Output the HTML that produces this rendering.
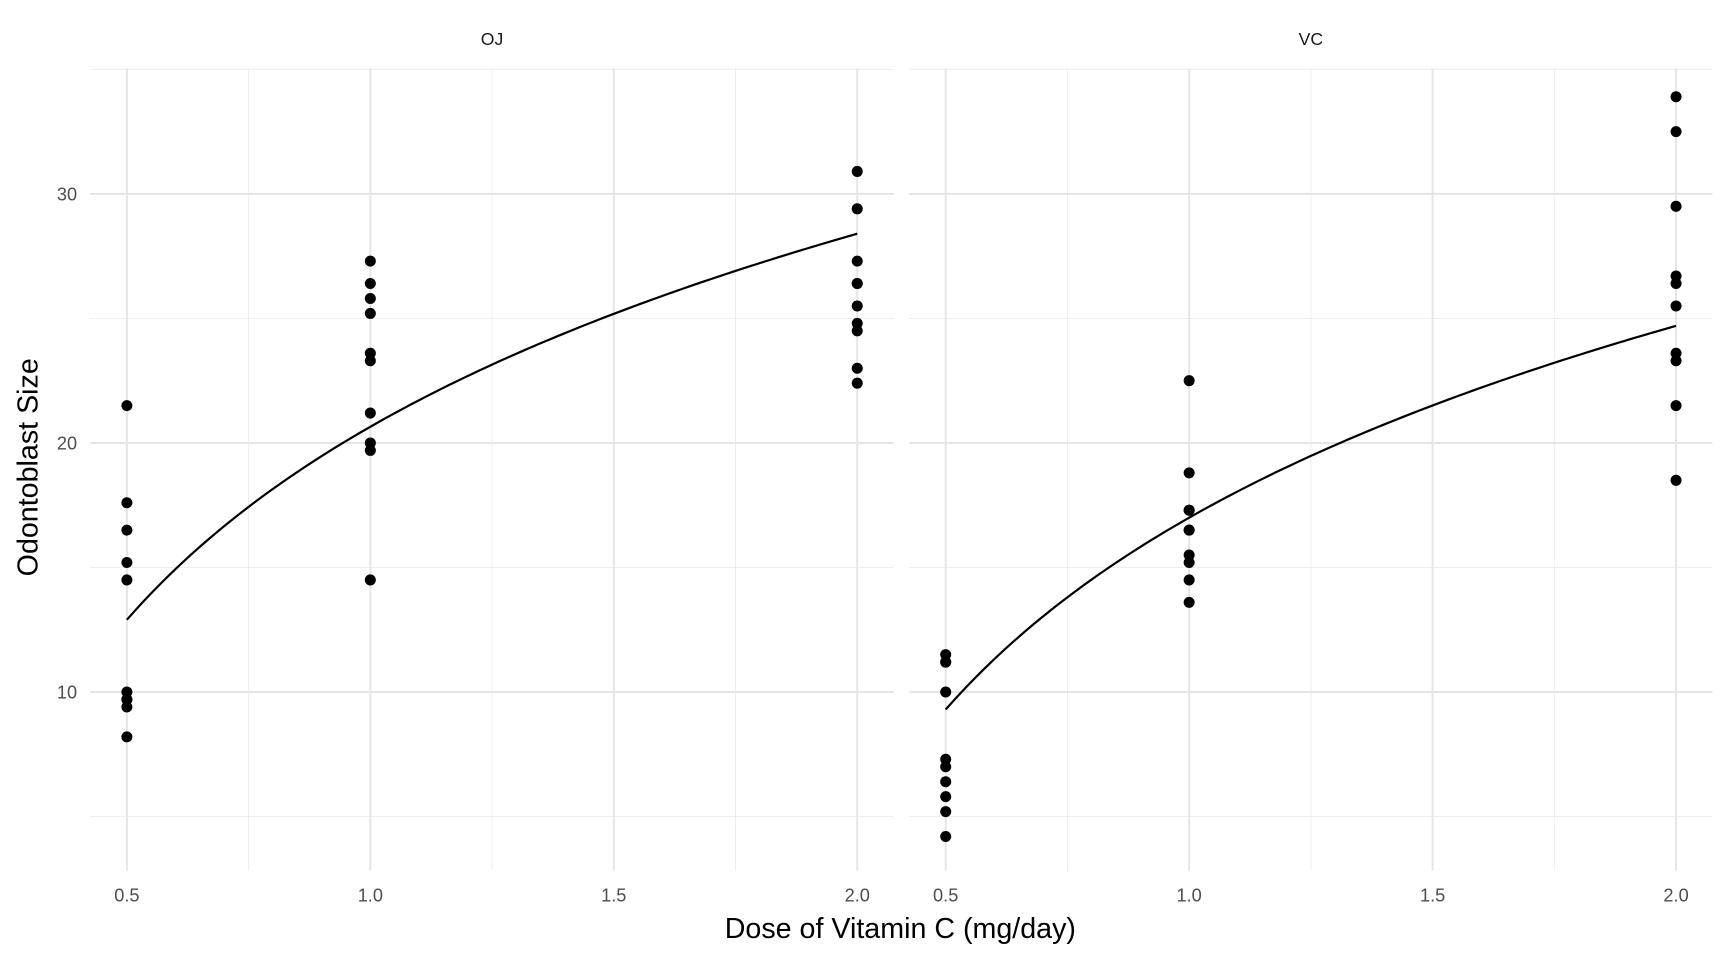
<!DOCTYPE html>
<html><head><meta charset="utf-8"><style>
html,body{margin:0;padding:0;background:#fff;}
svg{display:block;font-family:"Liberation Sans",sans-serif;}
</style></head><body>
<svg id="chart" width="1728" height="960" viewBox="0 0 1568 871.1" preserveAspectRatio="none" xmlns="http://www.w3.org/2000/svg"></svg>
<script>
const panels = ["OJ","VC"];
const doses = [0.5,1,2];
const ojLen = [[15.2,21.5,17.6,9.7,14.5,10,8.2,9.4,16.5,9.7],[19.7,23.3,23.6,26.4,20,25.2,25.8,21.2,14.5,27.3],[25.5,26.4,22.4,24.5,24.8,30.9,26.4,27.3,29.4,23]];
const vcLen = [[4.2,11.5,7.3,5.8,6.4,10,11.2,11.2,5.2,7],[16.5,16.5,15.2,17.3,22.5,17.3,13.6,14.5,18.8,15.5],[23.6,18.5,33.9,25.5,26.4,32.5,26.7,21.5,23.3,29.5]];
const fitA = [20.65,17.0];
const fitB = [11.18,11.11];
const xTicks = [0.5,1.0,1.5,2.0];
const xTickLabels = ["0.5","1.0","1.5","2.0"];
const xMinor = [0.75,1.25,1.75];
const yTicks = [10,20,30];
const yMinor = [5,15,25,35];

const NS="http://www.w3.org/2000/svg";
const svg=document.getElementById('chart');
function mk(tag,attrs,parent){const e=document.createElementNS(NS,tag);for(const k in attrs)e.setAttribute(k,attrs[k]);(parent||svg).appendChild(e);return e;}
const panelX=[[82,811],[825,1554]];
const yTop=62,yBot=790;
const xDom=[0.425,2.075], yDom=[2.83,35.04];
function sx(p,v){const [a,b]=panelX[p];return a+(v-xDom[0])/(xDom[1]-xDom[0])*(b-a);}
function sy(v){return yBot-(v-yDom[0])/(yDom[1]-yDom[0])*(yBot-yTop);}
const allData=[ojLen,vcLen];

panels.forEach((name,p)=>{
  const g=mk('g',{});
  
  
  const [x0,x1]=panelX[p];
  yMinor.forEach(v=>{const l=mk('line',{x1:x0,x2:x1,y1:sy(v),y2:sy(v),stroke:'#ebebeb','stroke-width':0.8},g);
    });
  xMinor.forEach(v=>{const l=mk('line',{x1:sx(p,v),x2:sx(p,v),y1:yTop,y2:yBot,stroke:'#ebebeb','stroke-width':0.8},g);
    });
  yTicks.forEach(v=>{const l=mk('line',{x1:x0,x2:x1,y1:sy(v),y2:sy(v),stroke:'#e5e5e5','stroke-width':1.8},g);
    });
  xTicks.forEach((v,i)=>{const l=mk('line',{x1:sx(p,v),x2:sx(p,v),y1:yTop,y2:yBot,stroke:'#e5e5e5','stroke-width':1.8},g);
    
    const t=mk('text',{x:sx(p,v),y:818,'text-anchor':'middle','font-size':16.5,fill:'#4d4d4d'},g);t.textContent=xTickLabels[i];
    });
  const st=mk('text',{x:(x0+x1)/2,y:41,'text-anchor':'middle','font-size':16,fill:'#1a1a1a'},g);st.textContent=name;
  
  let d='';
  for(let i=0;i<=100;i++){const x=0.5+1.5*i/100;const y=fitA[p]+fitB[p]*Math.log(x);d+=(i?'L':'M')+sx(p,x).toFixed(2)+','+sy(y).toFixed(2);}
  const fl=mk('path',{d:d,fill:'none',stroke:'#000','stroke-width':2},g);
  
  allData[p].forEach((arr,di)=>arr.forEach(v=>{
    const c=mk('circle',{cx:sx(p,doses[di]),cy:sy(v),r:5,fill:'#000'},g);
    
  }));
});
yTicks.forEach(v=>{const t=mk('text',{x:70,y:sy(v)+6,'text-anchor':'end','font-size':16.5,fill:'#4d4d4d'});t.textContent=String(v);
  });
const xt=mk('text',{x:817,y:851,'text-anchor':'middle','font-size':26,fill:'#000'});xt.textContent='Dose of Vitamin C (mg/day)';

const yt=mk('text',{x:0,y:0,'text-anchor':'middle','font-size':26,fill:'#000',transform:'translate(34,424) rotate(-90)'});yt.textContent='Odontoblast Size';

</script>
</body></html>
